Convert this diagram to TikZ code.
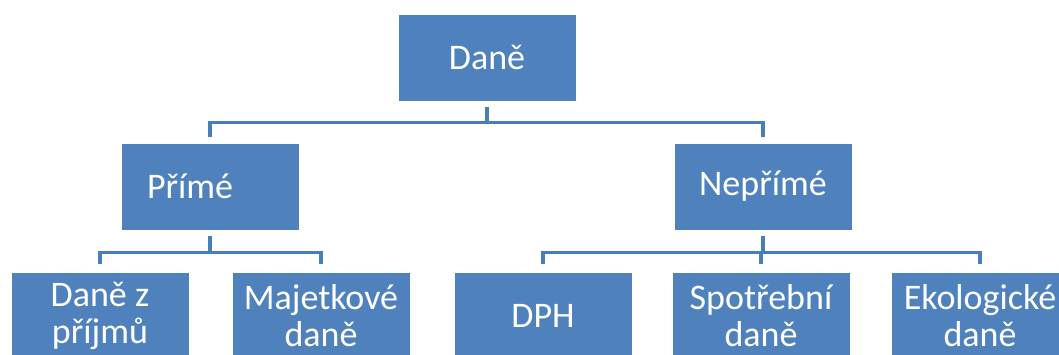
\documentclass[tikz,border=0pt]{standalone}
\usepackage{fontspec}
\setmainfont{Carlito}
\usepackage{xcolor}
\usetikzlibrary{positioning}

\definecolor{boxblue}{HTML}{4F81BD}
\definecolor{linkblue}{HTML}{4A7EBB}

\tikzset{
    taxbox/.style={rectangle, draw=white, line width=0.6pt, fill=boxblue, text=white,
        minimum width=133.5pt, minimum height=65.25pt, inner sep=0pt, align=center,
        font=\fontsize{27}{27.75}\selectfont},
    link/.style={draw=linkblue, line width=2.8pt, shorten <=4.5pt, shorten >=4.5pt}
}

\begin{document}
\begin{tikzpicture}[x=0.75pt, y=-0.75pt, node distance=96.75pt]
    \useasboundingbox (0,0) rectangle (1059,354);

    % Top level
    \node[taxbox] (dane) at (487,57.5) {Daně};

    % Second level
    \node[taxbox, below of=dane, xshift=-207.75pt, align=left, text width=94.5pt] (prime) {Přímé};
    \node[taxbox, below of=dane, xshift=207pt] (neprime) {Nepřímé};
    \draw[link] (dane.south) -- ++(0,21) -| (prime.north);
    \draw[link] (dane.south) -- ++(0,21) -| (neprime.north);

    % Direct taxes
    \node[taxbox, below of=prime, xshift=-82.5pt] (prijmy) {Daně z\\příjmů};
    \node[taxbox, right of=prijmy, xshift=69pt] (majetkove) {Majetkové\\daně};
    \draw[link, shorten >=6pt] (prime.south) -- ++(0,22) -| (prijmy.north);
    \draw[link, shorten >=6pt] (prime.south) -- ++(0,22) -| (majetkove.north);

    % Indirect taxes
    \node[taxbox, below of=neprime, xshift=-165pt] (dph) {DPH};
    \node[taxbox, right of=dph, xshift=66.75pt] (spotrebni) {Spotřební\\daně};
    \node[taxbox, right of=spotrebni, xshift=67.5pt] (ekologicke) {Ekologické\\daně};
    \draw[link, shorten >=6pt] (neprime.south) -- ++(0,22) -| (dph.north);
    \draw[link, shorten >=6pt] (neprime.south) -- ++(0,22) -| (spotrebni.north);
    \draw[link, shorten >=6pt] (neprime.south) -- ++(0,22) -| (ekologicke.north);
\end{tikzpicture}
\end{document}
